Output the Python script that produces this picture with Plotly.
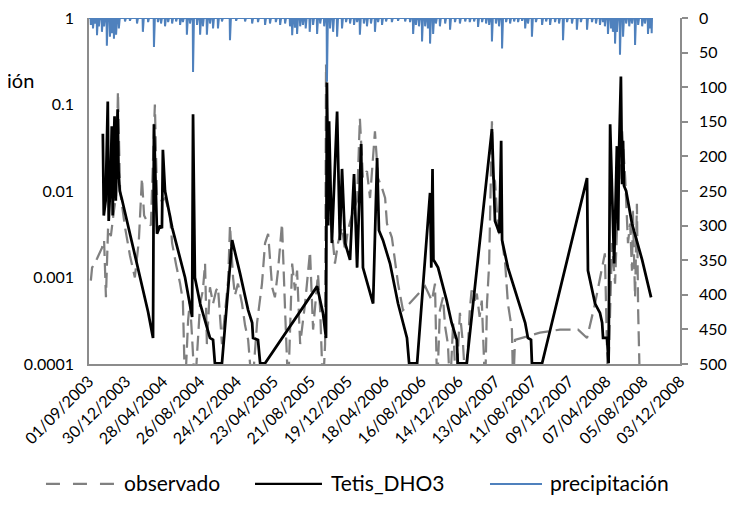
import pandas as pd
import plotly.graph_objects as go

# ---------------- data ----------------
sim_dates = [
    "2003-10-16", "2003-10-19", "2003-10-25", "2003-11-01", "2003-11-04", "2003-11-10", "2003-11-14",
    "2003-11-17", "2003-11-20", "2003-11-23", "2003-11-27", "2003-11-30", "2003-12-03", "2003-12-06",
    "2003-12-10", "2003-12-16", "2004-01-28", "2004-03-11", "2004-03-27",
    "2004-03-30", "2004-04-09", "2004-04-19", "2004-04-25", "2004-04-28", "2004-05-05", "2004-05-28",
    "2004-07-09", "2004-08-01",
    "2004-08-04", "2004-08-10", "2004-08-27", "2004-09-22", "2004-09-28", "2004-10-08", "2004-10-14",
    "2004-11-06",
    "2004-12-09", "2005-01-04", "2005-01-30", "2005-02-12", "2005-02-15", "2005-03-03", "2005-03-10",
    "2005-03-26",
    "2005-09-11", "2005-09-30", "2005-10-10", "2005-10-13", "2005-10-17", "2005-10-20", "2005-10-29",
    "2005-11-15", "2005-11-24", "2005-12-01", "2005-12-11", "2005-12-27",
    "2006-01-09", "2006-01-19", "2006-02-01", "2006-02-07", "2006-03-12", "2006-03-25", "2006-03-31",
    "2006-04-13", "2006-05-06", "2006-06-01", "2006-06-17", "2006-06-30", "2006-07-07", "2006-08-02",
    "2006-09-13", "2006-09-17", "2006-09-21", "2006-09-24", "2006-09-29", "2006-10-09", "2006-11-06",
    "2006-11-22", "2006-12-09", "2006-12-12", "2007-01-10",
    "2007-04-02", "2007-04-12", "2007-04-26", "2007-05-02", "2007-05-05", "2007-05-24", "2007-06-26",
    "2007-07-19", "2007-07-28", "2007-08-07", "2007-08-10", "2007-09-12",
    "2008-02-05", "2008-02-08", "2008-03-02", "2008-03-18", "2008-03-25", "2008-03-28", "2008-04-10",
    "2008-04-15", "2008-04-20", "2008-05-03", "2008-05-12", "2008-05-16", "2008-05-19", "2008-05-25",
    "2008-05-29", "2008-06-01", "2008-06-04", "2008-06-11", "2008-06-30", "2008-08-02", "2008-08-31",
]
sim_values = [
    0.046, 0.0052, 0.0077, 0.108, 0.0045, 0.013, 0.056,
    0.0052, 0.029, 0.073, 0.0077, 0.038, 0.088, 0.017,
    0.010, 0.0083, 0.0018, 0.0004, 0.0002,
    0.059, 0.0032, 0.0040, 0.0037, 0.030, 0.010, 0.0038,
    0.0010, 0.00035,
    0.077, 0.0010, 0.0005, 0.00025, 0.0002, 0.00019, 0.000102,
    0.000102,
    0.0027, 0.0011, 0.00042, 0.0003, 0.0002, 0.00019, 0.000102,
    0.000102,
    0.00079, 0.00039, 0.0002, 0.18, 0.004, 0.064, 0.0025,
    0.083, 0.0027, 0.018, 0.0025, 0.0016,
    0.0157, 0.0013, 0.035, 0.0013, 0.0005, 0.024, 0.0035,
    0.0027, 0.00145, 0.0005, 0.0003, 0.0002, 0.000102, 0.000102,
    0.0095, 0.0013, 0.018, 0.0016, 0.0015, 0.0013, 0.00054,
    0.0003, 0.00019, 0.000102, 0.000102,
    0.052, 0.0045, 0.0033, 0.038, 0.0027, 0.0013, 0.00054,
    0.0003, 0.0002, 0.00019, 0.000102, 0.000102,
    0.0141, 0.0012, 0.0005, 0.00039, 0.0003, 0.0002, 0.0002,
    0.000102, 0.059, 0.00145, 0.033, 0.0035, 0.029, 0.21,
    0.012, 0.038, 0.0115, 0.010, 0.0042, 0.0016, 0.00059,
]

obs_dates = [
    "2003-09-07", "2003-09-11", "2003-09-27", "2003-10-13", "2003-10-20", "2003-10-26", "2003-11-02",
    "2003-11-11", "2003-11-21", "2003-11-28", "2003-12-04", "2003-12-11", "2003-12-27", "2004-01-12",
    "2004-01-28", "2004-02-10", "2004-02-20", "2004-02-27", "2004-03-11", "2004-03-20", "2004-04-02",
    "2004-04-09", "2004-04-25", "2004-05-05", "2004-05-21", "2004-05-28", "2004-06-10", "2004-06-23",
    "2004-07-02", "2004-07-09", "2004-07-19", "2004-07-25", "2004-08-01", "2004-08-10", "2004-08-27",
    "2004-09-05", "2004-09-12", "2004-09-18", "2004-09-28", "2004-10-08", "2004-10-18", "2004-10-24",
    "2004-11-06", "2004-11-16", "2004-11-26", "2004-12-02", "2004-12-12", "2004-12-18", "2004-12-28",
    "2005-01-10", "2005-01-20", "2005-01-30", "2005-02-12", "2005-02-28", "2005-03-16", "2005-03-26",
    "2005-04-05", "2005-04-18", "2005-04-27", "2005-05-07", "2005-05-20", "2005-05-30", "2005-06-09",
    "2005-06-22", "2005-07-01", "2005-07-08", "2005-07-18", "2005-08-03", "2005-08-19", "2005-08-29",
    "2005-09-14", "2005-09-21", "2005-09-30", "2005-10-07", "2005-10-10", "2005-10-20", "2005-10-29",
    "2005-11-08", "2005-11-18", "2005-12-01", "2005-12-11", "2005-12-20", "2006-01-06", "2006-01-19",
    "2006-01-28", "2006-02-07", "2006-02-20", "2006-03-02", "2006-03-18", "2006-03-28", "2006-04-10",
    "2006-04-20", "2006-04-26", "2006-05-12", "2006-06-01", "2006-06-17", "2006-06-24", "2006-08-05",
    "2006-08-28", "2006-09-19", "2006-09-29", "2006-10-06", "2006-10-15", "2006-10-25", "2006-11-01",
    "2006-11-10", "2006-11-17", "2006-11-27", "2006-12-06", "2006-12-19", "2006-12-29", "2007-01-07",
    "2007-01-20", "2007-01-26", "2007-02-05", "2007-02-12", "2007-02-21", "2007-02-28", "2007-03-11",
    "2007-03-17", "2007-03-24", "2007-04-02", "2007-04-06", "2007-04-12", "2007-04-22", "2007-05-05",
    "2007-05-15", "2007-05-24", "2007-06-06", "2007-06-10", "2007-06-16", "2007-09-05", "2007-11-09",
    "2008-01-07", "2008-02-05", "2008-03-02", "2008-04-03", "2008-04-13", "2008-04-26", "2008-05-06",
    "2008-05-16", "2008-05-29", "2008-06-08", "2008-06-17", "2008-06-24", "2008-06-30", "2008-07-03",
    "2008-07-10", "2008-07-16", "2008-07-20", "2008-07-26",
]
obs_values = [
    0.00092, 0.0013, 0.00165, 0.0022, 0.0027, 0.00059, 0.0038,
    0.003, 0.0059, 0.0088, 0.141, 0.010, 0.0038, 0.0018,
    0.001, 0.0027, 0.0141, 0.0052, 0.0042, 0.004, 0.1,
    0.0083, 0.0077, 0.0083, 0.0054, 0.0025, 0.0014, 0.00085,
    0.00054, 0.00005, 0.00032, 0.00054, 0.0002, 0.00005, 0.0005,
    0.00071, 0.00145, 0.00017, 0.00077, 0.0005, 0.00071, 0.00077,
    0.00017, 0.00042, 0.00092, 0.004, 0.001, 0.00062, 0.00085,
    0.0005, 0.00028, 0.00019, 0.00005, 0.0003, 0.00085, 0.0025,
    0.0032, 0.00077, 0.00059, 0.0012, 0.0042, 0.00042, 0.00005,
    0.00145, 0.00071, 0.0012, 0.00017, 0.0005, 0.002, 0.00025,
    0.0011, 0.00042, 0.00005, 0.00017, 0.29, 0.0077, 0.0035,
    0.00145, 0.0025, 0.0038, 0.002, 0.0035, 0.0059, 0.0077,
    0.069, 0.0141, 0.017, 0.0083, 0.049, 0.0141, 0.0108,
    0.0083, 0.0042, 0.0029, 0.00085, 0.00042, 0.00044, 0.00065,
    0.00079, 0.00054, 0.00085, 0.00005, 0.00042, 0.00059, 0.00027,
    0.00017, 0.00005, 0.0003, 0.00005, 0.00039, 0.00017, 0.00005,
    0.00042, 0.00071, 0.00054, 0.00065, 0.00035, 0.00054, 0.00005,
    0.0005, 0.00145, 0.064, 0.0141, 0.013, 0.0035, 0.0027,
    0.00145, 0.0005, 0.00025, 0.00005, 0.00019, 0.00023, 0.00025,
    0.00025, 0.0002, 0.0005, 0.0019, 0.00005, 0.0025, 0.00085,
    0.0083, 0.049, 0.0141, 0.0025, 0.0042, 0.0012, 0.0059,
    0.00059, 0.0071, 0.00042, 0.00005,
]

# precipitation (mm) on rainy days; all other days of the record are dry (0)
rain_dates = [
    "2003-09-07", "2003-09-14", "2003-09-20", "2003-09-27", "2003-10-03", "2003-10-13", "2003-10-20",
    "2003-10-29", "2003-11-08", "2003-11-15", "2003-11-21", "2003-11-28", "2003-12-07", "2003-12-27",
    "2004-01-12", "2004-02-04", "2004-02-23", "2004-03-11", "2004-03-30", "2004-04-12", "2004-04-22",
    "2004-05-05", "2004-05-15", "2004-05-28", "2004-06-10", "2004-06-23", "2004-07-02", "2004-07-15",
    "2004-07-25", "2004-08-04", "2004-08-17", "2004-08-27", "2004-09-05", "2004-09-18", "2004-09-28",
    "2004-10-08", "2004-10-24", "2004-11-06", "2004-12-02", "2004-12-22", "2005-01-20", "2005-02-12",
    "2005-03-03", "2005-03-26", "2005-04-11", "2005-04-30", "2005-05-14", "2005-05-30", "2005-06-15",
    "2005-06-22", "2005-07-01", "2005-07-08", "2005-07-18", "2005-07-27", "2005-08-05", "2005-08-18",
    "2005-08-29", "2005-09-11", "2005-09-21", "2005-10-04", "2005-10-13", "2005-10-23", "2005-11-02",
    "2005-11-15", "2005-12-01", "2005-12-14", "2005-12-27", "2006-01-09", "2006-01-19", "2006-01-28",
    "2006-02-10", "2006-02-20", "2006-03-05", "2006-03-18", "2006-03-28", "2006-04-10", "2006-04-23",
    "2006-05-12", "2006-06-01", "2006-06-24", "2006-07-10", "2006-07-20", "2006-07-29", "2006-08-08",
    "2006-08-18", "2006-08-28", "2006-09-06", "2006-09-13", "2006-09-23", "2006-10-02", "2006-10-15",
    "2006-11-01", "2006-11-17", "2006-12-03", "2006-12-19", "2007-01-05", "2007-01-20", "2007-02-03",
    "2007-02-16", "2007-03-01", "2007-03-14", "2007-03-24", "2007-04-02", "2007-04-15", "2007-04-25",
    "2007-05-05", "2007-05-18", "2007-05-31", "2007-06-13", "2007-06-26", "2007-07-09", "2007-07-19",
    "2007-07-28", "2007-08-10", "2007-08-23", "2007-09-12", "2007-09-25", "2007-10-08", "2007-10-24",
    "2007-11-06", "2007-11-19", "2007-12-02", "2007-12-18", "2008-01-03", "2008-01-16", "2008-02-05",
    "2008-02-21", "2008-03-05", "2008-03-18", "2008-03-28", "2008-04-03", "2008-04-13", "2008-04-23",
    "2008-04-29", "2008-05-06", "2008-05-12", "2008-05-22", "2008-06-01", "2008-06-11", "2008-06-21",
    "2008-06-30", "2008-07-10", "2008-07-20", "2008-08-02", "2008-08-11", "2008-08-21", "2008-08-28",
    "2008-09-02",
]
rain_mm = [
    10, 15, 8, 25, 12, 20, 12,
    40, 27, 22, 30, 24, 15, 5,
    4, 8, 20, 6, 42, 6, 8,
    12, 6, 8, 5, 10, 6, 24,
    8, 78, 10, 24, 12, 24, 8,
    15, 15, 5, 32, 4, 5, 8,
    6, 10, 8, 6, 10, 8, 12,
    25, 14, 23, 12, 10, 15, 20,
    10, 23, 8, 12, 92, 15, 20,
    27, 15, 6, 8, 10, 6, 24,
    8, 12, 8, 20, 6, 10, 5,
    6, 4, 5, 6, 23, 10, 12,
    34, 12, 15, 37, 23, 8, 12,
    8, 17, 6, 8, 5, 6, 5,
    13, 6, 8, 10, 34, 8, 12,
    44, 6, 8, 5, 6, 4, 15,
    8, 27, 6, 10, 5, 10, 6,
    8, 32, 6, 8, 17, 6, 17,
    6, 8, 10, 6, 12, 23, 15,
    20, 37, 20, 53, 27, 8, 12,
    8, 39, 10, 12, 8, 23, 15,
    22,
]
record_start = "2003-09-01"
record_end = "2008-09-03"

tick_dates = [
    "2003-09-01", "2003-12-30", "2004-04-28", "2004-08-26", "2004-12-24", "2005-04-23",
    "2005-08-21", "2005-12-19", "2006-04-18", "2006-08-16", "2006-12-14", "2007-04-13",
    "2007-08-11", "2007-12-09", "2008-04-07", "2008-08-05", "2008-12-03",
]
y_ticks = [0.0001, 0.001, 0.01, 0.1, 1]
y_tick_labels = ["0.0001", "0.001", "0.01", "0.1", "1"]
y2_ticks = [0, 50, 100, 150, 200, 250, 300, 350, 400, 450, 500]
series_names = ["observado", "Tetis_DHO3", "precipitación"]

# build the daily precipitation record
days = pd.date_range(record_start, record_end, freq="D")
precip = pd.Series(0.0, index=days)
precip.loc[pd.to_datetime(rain_dates)] = rain_mm

FONT = "Lato, 'Open Sans', sans-serif"
GRAY_AX = "#8c8c8c"
COL_OBS, COL_SIM, COL_P = "#808080", "#000000", "#4F81BD"

fig = go.Figure()
fig.add_trace(go.Scatter(
    x=pd.to_datetime(obs_dates), y=obs_values, name=series_names[0], mode="lines",
    line=dict(color=COL_OBS, width=2.25, dash="15px,7px"),
))
fig.add_trace(go.Scatter(
    x=pd.to_datetime(sim_dates), y=sim_values, name=series_names[1], mode="lines",
    line=dict(color=COL_SIM, width=2.75),
))
fig.add_trace(go.Scatter(
    x=precip.index, y=precip.values, name=series_names[2], mode="lines", yaxis="y2",
    line=dict(color=COL_P, width=2),
))

# legend drawn below the plot (line samples + labels), in paper coordinates
LEG_LINE_Y = -0.3468
LEG_TEXT_Y = -0.3439
legend_items = [
    (series_names[0], COL_OBS, "14px,13px", -0.0728, 0.0440, 0.0558),
    (series_names[1], COL_SIM, "solid", 0.2809, 0.3942, 0.4061),
    (series_names[2], COL_P, "solid", 0.6785, 0.7665, 0.7766),
]
shapes, annotations = [], []
for name, col, dash, x0, x1, xt in legend_items:
    shapes.append(dict(type="line", xref="paper", yref="paper", x0=x0, x1=x1,
                       y0=LEG_LINE_Y, y1=LEG_LINE_Y,
                       line=dict(color=col, width=2.25 if col != COL_P else 2, dash=dash)))
    annotations.append(dict(text=name, xref="paper", yref="paper", x=xt, y=LEG_TEXT_Y,
                            xanchor="left", yanchor="middle", showarrow=False,
                            font=dict(size=21, family=FONT)))
annotations.append(dict(
    text="ión", xref="paper", yref="paper", x=-0.0897, y=0.8208,
    xanchor="right", yanchor="middle", showarrow=False, font=dict(size=20, family=FONT),
))

# the page body adds an 8 px offset, so the figure is 721x489 drawn at (8, 8)
tick_ts = pd.to_datetime(tick_dates)
fig.update_layout(
    width=721, height=489,
    margin=dict(l=81, r=49, t=10, b=133, autoexpand=False),
    paper_bgcolor="white", plot_bgcolor="white",
    font=dict(family=FONT, color="#000000"),
    showlegend=False,
    xaxis=dict(
        type="date", range=[tick_ts[0], tick_ts[-1]], automargin=False,
        tickvals=tick_ts, ticktext=[d.strftime("%d/%m/%Y") for d in tick_ts],
        tickangle=-45, tickfont=dict(size=16, family=FONT),
        showgrid=False, zeroline=False, showline=True, linecolor=GRAY_AX, linewidth=1.5,
        ticks="", ticklabeloverflow="allow",
    ),
    yaxis=dict(
        type="log", range=[-4, 0], tickvals=y_ticks, ticktext=y_tick_labels, automargin=False,
        tickfont=dict(size=16, family=FONT), showgrid=False, zeroline=False,
        showline=True, linecolor=GRAY_AX, linewidth=1.5, ticks="", ticklabelstandoff=10,
        ticklabeloverflow="allow",
    ),
    yaxis2=dict(
        overlaying="y", side="right", range=[500, 0], tickvals=y2_ticks, automargin=False,
        tickfont=dict(size=16, family=FONT), showgrid=False, zeroline=False,
        showline=True, linecolor=GRAY_AX, linewidth=1.5, ticks="outside", ticklen=6,
        tickcolor=GRAY_AX, tickwidth=1.5, ticklabelstandoff=8, ticklabeloverflow="allow",
    ),
    shapes=shapes,
    annotations=annotations,
)

fig.write_html("out.html")
